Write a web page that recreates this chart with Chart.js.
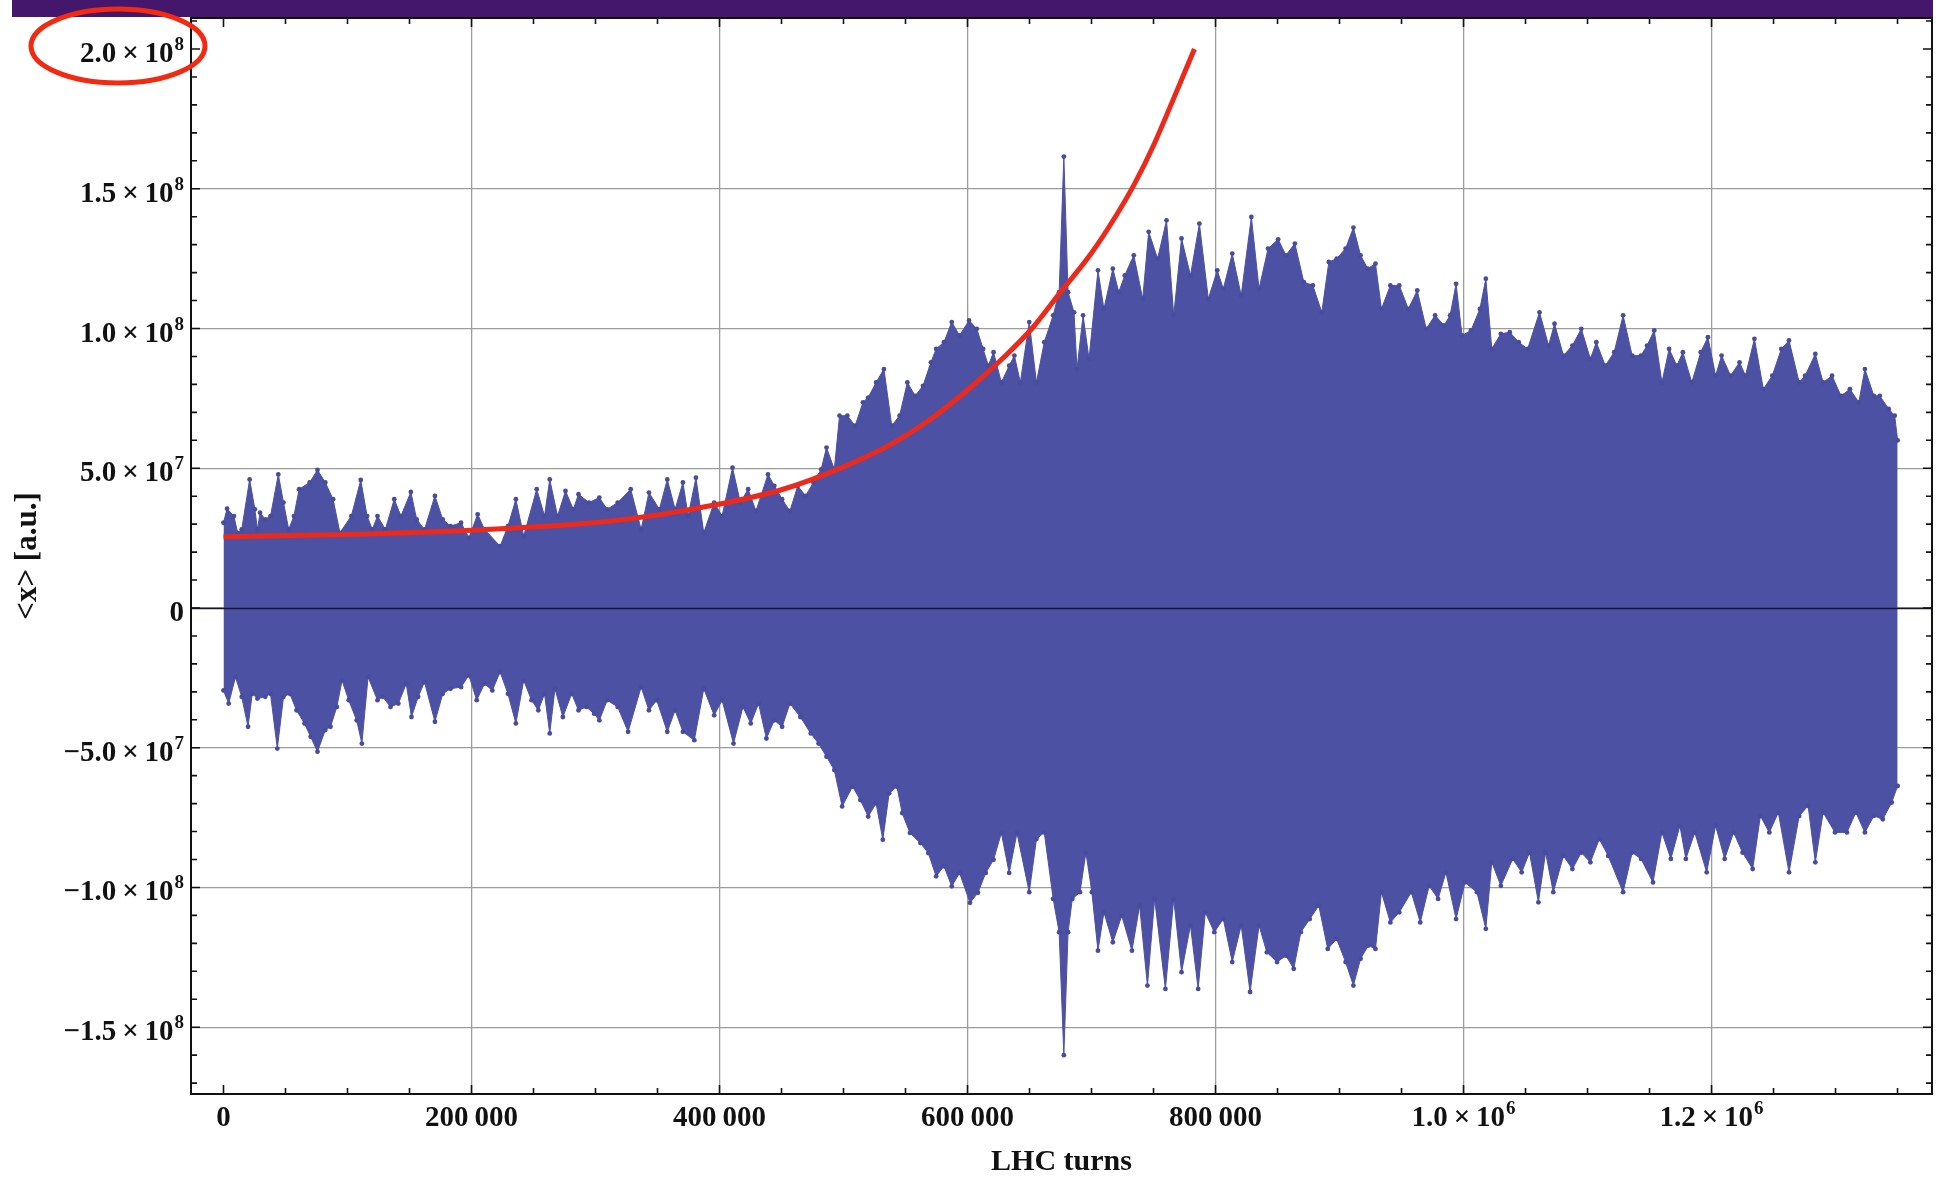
<!DOCTYPE html>
<html>
<head>
<meta charset="utf-8">
<script src="https://cdn.jsdelivr.net/npm/chart.js@4.4.1/dist/chart.umd.min.js"></script>
<style>
  html, body { margin: 0; padding: 0; background: #fff; }
  #wrap { width: 1936px; height: 1178px; }
</style>
</head>
<body>
<div id="wrap"><canvas id="turnsChart" width="1936" height="1178"></canvas></div>
<script>
// envelope of the <x> scatter: [turns in thousands, amplitude in millions]
const upperEdge = [
  [0, 30.5], [2.9, 35.5], [8.4, 32.9], [11.4, 26.9], [14.7, 28.1], [21.1, 46.0], [25.3, 35.3], [27.4, 28.1],
  [29.5, 34.1], [33.7, 31.7], [37.9, 32.9], [44.2, 47.8], [48.4, 37.7], [52.6, 28.1], [56.8, 32.9], [61.0, 42.5],
  [69.5, 44.9], [75.8, 49.4], [82.1, 44.9], [88.4, 38.9], [93.9, 26.9], [103.1, 32.9], [110.7, 45.8], [115.8, 32.9],
  [120.0, 28.1], [124.2, 32.9], [130.5, 28.1], [137.7, 38.9], [143.1, 32.9], [151.1, 41.5], [155.8, 31.7], [162.1, 28.1],
  [170.5, 40.1], [176.8, 31.7], [183.1, 29.3], [191.6, 30.5], [197.9, 25.1], [205.0, 33.5], [210.5, 28.1], [223.1, 22.1],
  [229.4, 29.3], [235.8, 38.9], [242.1, 25.7], [252.6, 42.5], [258.9, 32.9], [263.1, 46.0], [269.4, 32.9], [275.8, 41.9],
  [282.1, 35.3], [286.3, 40.7], [294.7, 37.7], [303.1, 39.5], [309.4, 35.3], [317.9, 37.7], [328.4, 42.5], [336.8, 28.1],
  [343.1, 41.3], [351.5, 35.3], [357.9, 46.0], [364.2, 35.3], [370.5, 44.9], [374.7, 32.9], [381.0, 46.6], [387.3, 26.9],
  [395.7, 37.7], [402.1, 32.9], [410.5, 50.2], [416.8, 37.7], [423.1, 42.5], [429.4, 34.7], [439.1, 47.8], [444.2, 43.7],
  [450.5, 38.9], [456.8, 34.7], [463.1, 43.7], [469.4, 40.1], [475.7, 44.9], [482.0, 49.6], [486.3, 57.4], [492.6, 49.6],
  [496.8, 68.8], [503.1, 68.8], [509.4, 65.2], [515.7, 73.6], [519.9, 75.3], [526.3, 80.7], [532.6, 85.5], [538.9, 65.2],
  [545.2, 68.8], [551.5, 80.7], [557.8, 75.9], [564.1, 79.5], [570.5, 87.9], [574.7, 92.7], [581.0, 95.1], [587.3, 102.3],
  [593.6, 97.5], [601.2, 102.9], [607.5, 99.9], [612.6, 92.7], [616.8, 86.7], [621.0, 91.5], [627.3, 80.7], [633.6, 86.7],
  [637.8, 90.3], [642.6, 80.7], [649.8, 102.3], [655.6, 80.7], [661.9, 95.1], [669.1, 104.7], [673.9, 113.0], [677.7, 161.5],
  [681.1, 113.0], [685.9, 105.8], [688.3, 85.5], [693.2, 104.7], [698.0, 89.1], [705.2, 120.8], [710.0, 107.0], [717.2, 121.4],
  [722.0, 113.0], [726.8, 119.0], [734.1, 126.2], [741.3, 110.6], [746.1, 134.6], [753.3, 125.0], [760.5, 138.7], [766.3, 104.7],
  [772.6, 132.2], [779.8, 119.0], [787.0, 137.5], [794.2, 110.6], [801.4, 120.8], [806.3, 114.2], [813.5, 126.8], [820.7, 111.8],
  [828.9, 139.9], [835.1, 114.2], [842.4, 128.6], [850.5, 131.9], [856.8, 126.2], [864.0, 130.4], [871.2, 116.6], [878.5, 115.4],
  [885.7, 105.8], [891.4, 123.8], [897.7, 125.0], [904.9, 128.6], [911.2, 136.1], [917.0, 126.2], [922.7, 121.4], [929.0, 123.2],
  [933.8, 107.0], [941.0, 115.4], [948.2, 115.4], [955.5, 107.0], [962.7, 113.6], [969.9, 99.9], [977.1, 104.7], [984.3, 101.1],
  [989.2, 104.7], [994.0, 116.0], [998.8, 97.5], [1006.0, 99.3], [1013.2, 107.0], [1018.0, 117.8], [1022.8, 92.7], [1030.1, 98.1],
  [1037.3, 98.7], [1044.5, 95.1], [1051.7, 92.7], [1061.3, 105.8], [1068.6, 93.9], [1073.4, 101.7], [1080.6, 90.3], [1087.8, 93.9],
  [1095.0, 99.9], [1102.3, 89.1], [1107.1, 95.1], [1114.3, 86.7], [1121.5, 91.5], [1128.7, 104.7], [1136.0, 90.3], [1143.2, 90.3],
  [1148.0, 93.9], [1153.8, 99.3], [1160.0, 80.7], [1165.8, 92.7], [1172.0, 86.7], [1176.9, 91.5], [1184.1, 80.7], [1191.3, 91.5],
  [1197.1, 96.9], [1203.3, 83.1], [1208.1, 90.3], [1215.4, 83.1], [1222.6, 87.9], [1227.4, 83.1], [1234.6, 96.3], [1241.8, 78.3],
  [1249.0, 83.1], [1256.3, 92.7], [1262.5, 95.7], [1270.7, 80.7], [1275.5, 83.1], [1283.7, 90.9], [1290.0, 80.7], [1297.2, 83.1],
  [1304.4, 75.9], [1311.6, 78.3], [1318.8, 73.6], [1323.7, 85.5], [1330.9, 75.9], [1335.7, 75.9], [1342.9, 71.2], [1347.7, 68.8],
  [1350.1, 60.0]
];

const lowerEdge = [
  [0, -29.5], [4.2, -34.2], [9.7, -24.7], [14.7, -31.8], [19.8, -42.5], [23.2, -30.7], [27.4, -32.4], [33.7, -31.8],
  [37.9, -30.7], [43.4, -50.3], [48.4, -31.8], [53.5, -30.7], [58.9, -36.6], [65.3, -41.3], [70.3, -46.1], [75.8, -51.4],
  [82.1, -43.7], [86.3, -42.5], [91.4, -35.4], [95.6, -25.9], [101.0, -33.0], [107.4, -40.2], [111.6, -48.5], [116.6, -24.7],
  [124.2, -33.0], [128.4, -31.8], [134.7, -35.4], [141.0, -34.2], [147.4, -27.1], [151.6, -39.0], [157.0, -31.8], [162.1, -26.5],
  [170.5, -40.7], [176.8, -30.7], [183.1, -28.9], [191.6, -28.3], [197.9, -24.1], [204.2, -33.0], [210.5, -27.1], [216.8, -29.5],
  [223.1, -22.9], [229.4, -30.7], [235.8, -41.3], [242.1, -25.9], [248.4, -33.0], [253.9, -36.6], [258.9, -30.7], [263.1, -44.9],
  [267.3, -28.9], [273.7, -39.0], [280.8, -30.7], [286.3, -36.6], [292.6, -35.4], [298.9, -37.8], [303.1, -40.2], [309.4, -33.0],
  [317.9, -35.4], [326.3, -44.3], [336.8, -28.3], [343.1, -36.6], [349.4, -33.0], [357.9, -44.3], [364.2, -36.6], [370.5, -44.3],
  [379.7, -47.3], [387.3, -28.9], [395.7, -38.4], [402.1, -33.0], [411.3, -48.5], [418.9, -35.4], [425.2, -41.3], [431.5, -34.2],
  [437.8, -46.7], [444.2, -40.2], [450.5, -42.5], [456.8, -34.2], [465.2, -39.0], [473.6, -44.9], [479.9, -48.5], [486.3, -53.2],
  [492.6, -58.0], [498.9, -71.0], [507.3, -63.9], [513.6, -68.7], [519.9, -74.6], [526.3, -69.9], [531.7, -82.9], [536.8, -66.3],
  [543.1, -63.9], [547.3, -73.4], [553.6, -80.5], [562.0, -84.1], [568.4, -87.7], [574.7, -96.0], [581.0, -92.4], [587.3, -99.6],
  [593.6, -94.8], [602.0, -105.5], [608.4, -101.9], [614.7, -94.8], [621.0, -90.1], [627.3, -80.5], [633.6, -94.8], [639.9, -80.5],
  [649.8, -101.7], [655.6, -82.7], [661.9, -80.3], [669.1, -104.1], [673.9, -116.0], [677.7, -160.0], [681.1, -116.0], [684.5, -104.1],
  [690.7, -101.7], [695.5, -87.5], [700.3, -101.7], [705.2, -122.6], [710.0, -108.9], [717.2, -119.6], [724.4, -110.1], [732.6, -122.6],
  [738.8, -106.5], [745.1, -135.1], [750.9, -104.1], [759.6, -136.3], [766.3, -104.1], [772.6, -130.3], [779.8, -113.6], [786.0, -136.3],
  [791.8, -108.9], [799.0, -116.0], [806.3, -111.3], [813.5, -126.7], [820.7, -113.6], [827.9, -137.4], [835.1, -113.6], [841.4, -123.2],
  [849.6, -126.7], [856.8, -124.4], [863.1, -129.1], [868.8, -116.0], [876.0, -111.3], [883.3, -106.5], [890.5, -122.0], [897.7, -118.4],
  [904.9, -126.7], [911.2, -135.1], [917.0, -125.5], [923.2, -120.8], [929.0, -122.0], [933.8, -101.7], [941.0, -112.5], [948.2, -108.9],
  [957.9, -101.7], [965.1, -112.5], [972.3, -99.4], [979.5, -104.1], [985.8, -94.6], [994.0, -111.3], [1001.2, -98.2], [1010.8, -101.7],
  [1018.0, -114.8], [1022.8, -91.0], [1030.1, -99.4], [1039.7, -89.8], [1046.9, -94.6], [1053.2, -87.5], [1060.4, -105.3], [1066.2, -87.5],
  [1072.4, -101.7], [1080.6, -88.7], [1087.8, -93.4], [1095.0, -87.5], [1102.3, -91.0], [1109.5, -82.7], [1116.7, -88.7], [1128.7, -101.7],
  [1136.0, -87.5], [1143.2, -89.8], [1152.8, -98.2], [1160.0, -80.3], [1167.2, -89.8], [1174.5, -77.9], [1179.3, -89.8], [1186.5, -80.3],
  [1196.1, -94.6], [1203.3, -77.9], [1210.6, -89.8], [1217.8, -80.3], [1225.0, -87.5], [1233.2, -93.4], [1239.4, -74.4], [1246.6, -80.3],
  [1253.9, -73.2], [1262.5, -94.6], [1270.7, -74.4], [1277.9, -70.8], [1283.7, -91.0], [1290.0, -73.2], [1299.6, -80.3], [1309.2, -80.3],
  [1316.4, -73.2], [1323.7, -80.3], [1330.9, -74.4], [1338.1, -75.6], [1345.3, -69.6], [1350.1, -63.7]
];

// exponential fit drawn in red: [turns in thousands, amplitude in millions]
const fitCurve = [
  [0, 25.5], [100, 26.3], [200, 27.8], [300, 30.6], [350, 33.3], [400, 37.2], [450, 42.3], [500, 50.5],
  [540, 59.0], [570, 67.5], [600, 78.0], [630, 90.0], [652, 100.0], [675, 113.0], [700, 127.0], [720, 140.5],
  [735, 152.0], [750, 165.5], [765, 181.0], [783, 200.0]
];

const xGridValues = [200000, 400000, 600000, 800000, 1000000, 1200000];
const yGridValues = [-1.5e8, -1e8, -5e7, 0, 5e7, 1e8, 1.5e8];

const xTickValues = [0, 200000, 400000, 600000, 800000, 1000000, 1200000];
const xTickLabels = [['0', ''], ['200\u2009000', ''], ['400\u2009000', ''], ['600\u2009000', ''], ['800\u2009000', ''],
  ['1.0\u2009\u00d7\u200910', '6'], ['1.2\u2009\u00d7\u200910', '6']];
const yTickValues = [-1.5e8, -1e8, -5e7, 0, 5e7, 1e8, 1.5e8, 2e8];
const yTickLabels = [['\u22121.5\u2009\u00d7\u200910', '8'], ['\u22121.0\u2009\u00d7\u200910', '8'], ['\u22125.0\u2009\u00d7\u200910', '7'],
  ['0', ''], ['5.0\u2009\u00d7\u200910', '7'], ['1.0\u2009\u00d7\u200910', '8'], ['1.5\u2009\u00d7\u200910', '8'], ['2.0\u2009\u00d7\u200910', '8']];

const xTitle = 'LHC turns';
const yTitle = '<x> [a.u.]';

const BLUE = '#4c51a3';
const DOT = '#474c9c';
const SERIF = '"Liberation Serif", "Times New Roman", serif';

function toPoints(rows) {
    return rows.map(r => ({ x: r[0] * 1000, y: r[1] * 1e6 }));
}

const framePlugin = {
    id: 'frame',
    beforeDraw(chart) {
        const ctx = chart.ctx;
        ctx.save();
        ctx.fillStyle = '#fff';
        ctx.fillRect(0, 0, chart.width, chart.height);
        ctx.restore();
    },
    afterDatasetsDraw(chart) {
        const { ctx, chartArea: a, scales: { x, y } } = chart;
        ctx.save();

        // zero axis over the data
        const y0 = Math.round(y.getPixelForValue(0)) + 0.5;
        ctx.strokeStyle = '#151530';
        ctx.lineWidth = 1.6;
        ctx.beginPath();
        ctx.moveTo(a.left, y0);
        ctx.lineTo(a.right, y0);
        ctx.stroke();

        // frame
        ctx.strokeStyle = '#111';
        ctx.lineWidth = 2;
        ctx.strokeRect(a.left, a.top, a.right - a.left, a.bottom - a.top);

        // inward ticks, major + minor
        ctx.lineWidth = 1.6;
        ctx.beginPath();
        for (let k = 0; k <= 27; k++) {
            const px = x.getPixelForValue(k * 50000);
            const len = k % 4 === 0 ? 9 : 6;
            ctx.moveTo(px, a.bottom); ctx.lineTo(px, a.bottom - len);
            ctx.moveTo(px, a.top); ctx.lineTo(px, a.top + len);
        }
        for (let k = -17; k <= 21; k++) {
            const py = y.getPixelForValue(k * 1e7);
            const len = k % 5 === 0 ? 9 : 6;
            ctx.moveTo(a.left, py); ctx.lineTo(a.left + len, py);
            ctx.moveTo(a.right, py); ctx.lineTo(a.right - len, py);
        }
        ctx.stroke();

        // tick labels
        ctx.fillStyle = '#111';
        ctx.textBaseline = 'alphabetic';
        const mainFont = 'bold 29px ' + SERIF;
        const expFont = 'bold 19px ' + SERIF;

        yTickValues.forEach((v, i) => {
            const [main, exp] = yTickLabels[i];
            const py = y.getPixelForValue(v);
            let right = a.left - 7;
            ctx.textAlign = 'right';
            if (exp) {
                ctx.font = expFont;
                ctx.fillText(exp, right, py + 1);
                right -= ctx.measureText(exp).width + 1;
            }
            ctx.font = mainFont;
            ctx.fillText(main, right, py + 13);
        });

        xTickValues.forEach((v, i) => {
            const [main, exp] = xTickLabels[i];
            const px = x.getPixelForValue(v);
            ctx.font = mainFont;
            const mw = ctx.measureText(main).width;
            ctx.font = expFont;
            const ew = exp ? ctx.measureText(exp).width + 1 : 0;
            const left = px - (mw + ew) / 2;
            ctx.textAlign = 'left';
            ctx.font = mainFont;
            ctx.fillText(main, left, a.bottom + 32);
            if (exp) {
                ctx.font = expFont;
                ctx.fillText(exp, left + mw + 1, a.bottom + 20);
            }
        });

        // axis titles
        ctx.font = 'bold 30px ' + SERIF;
        ctx.textAlign = 'center';
        ctx.textBaseline = 'middle';
        ctx.fillText(xTitle, (a.left + a.right) / 2, 1162);
        ctx.save();
        ctx.font = 'bold 31px ' + SERIF;
        ctx.translate(28, (a.top + a.bottom) / 2);
        ctx.rotate(-Math.PI / 2);
        ctx.fillText(yTitle, 0, 0);
        ctx.restore();

        ctx.restore();
    },
    afterDraw(chart) {
        const ctx = chart.ctx;
        ctx.save();
        // slide header strip
        ctx.fillStyle = '#44166c';
        ctx.fillRect(12, 0, 1921, 17);
        // red highlight round the top label
        ctx.strokeStyle = '#f22a12';
        ctx.lineWidth = 5;
        ctx.beginPath();
        ctx.ellipse(118, 46, 87, 37, 0, 0, Math.PI * 2);
        ctx.stroke();
        ctx.restore();
    }
};

const ctx = document.getElementById('turnsChart').getContext('2d');

new Chart(ctx, {
    type: 'line',
    data: {
        datasets: [
            {
                label: 'fit',
                data: toPoints(fitCurve),
                borderColor: '#ec2a1c',
                borderWidth: 5,
                pointRadius: 0,
                fill: false,
                cubicInterpolationMode: 'monotone',
                order: 0
            },
            {
                label: 'upper',
                data: toPoints(upperEdge),
                borderColor: BLUE,
                backgroundColor: BLUE,
                borderWidth: 1,
                pointRadius: 2.4,
                pointBorderWidth: 0,
                pointBackgroundColor: DOT,
                fill: 'origin',
                tension: 0,
                order: 1
            },
            {
                label: 'lower',
                data: toPoints(lowerEdge),
                borderColor: BLUE,
                backgroundColor: BLUE,
                borderWidth: 1,
                pointRadius: 2.4,
                pointBorderWidth: 0,
                pointBackgroundColor: DOT,
                fill: 'origin',
                tension: 0,
                order: 2
            }
        ]
    },
    options: {
        responsive: false,
        animation: false,
        devicePixelRatio: 1,
        layout: { padding: { left: 191, top: 18, right: 4, bottom: 84 } },
        plugins: {
            legend: { display: false },
            tooltip: { enabled: false }
        },
        scales: {
            x: {
                type: 'linear',
                min: -26200,
                max: 1377800,
                afterBuildTicks: s => { s.ticks = xGridValues.map(v => ({ value: v })); },
                ticks: { display: false },
                grid: { color: '#9c9c9c', lineWidth: 1.3, drawTicks: false },
                border: { display: false }
            },
            y: {
                type: 'linear',
                min: -1.739e8,
                max: 2.111e8,
                afterBuildTicks: s => { s.ticks = yGridValues.map(v => ({ value: v })); },
                ticks: { display: false },
                grid: { color: '#9c9c9c', lineWidth: 1.3, drawTicks: false },
                border: { display: false }
            }
        }
    },
    plugins: [framePlugin]
});
</script>
</body>
</html>
